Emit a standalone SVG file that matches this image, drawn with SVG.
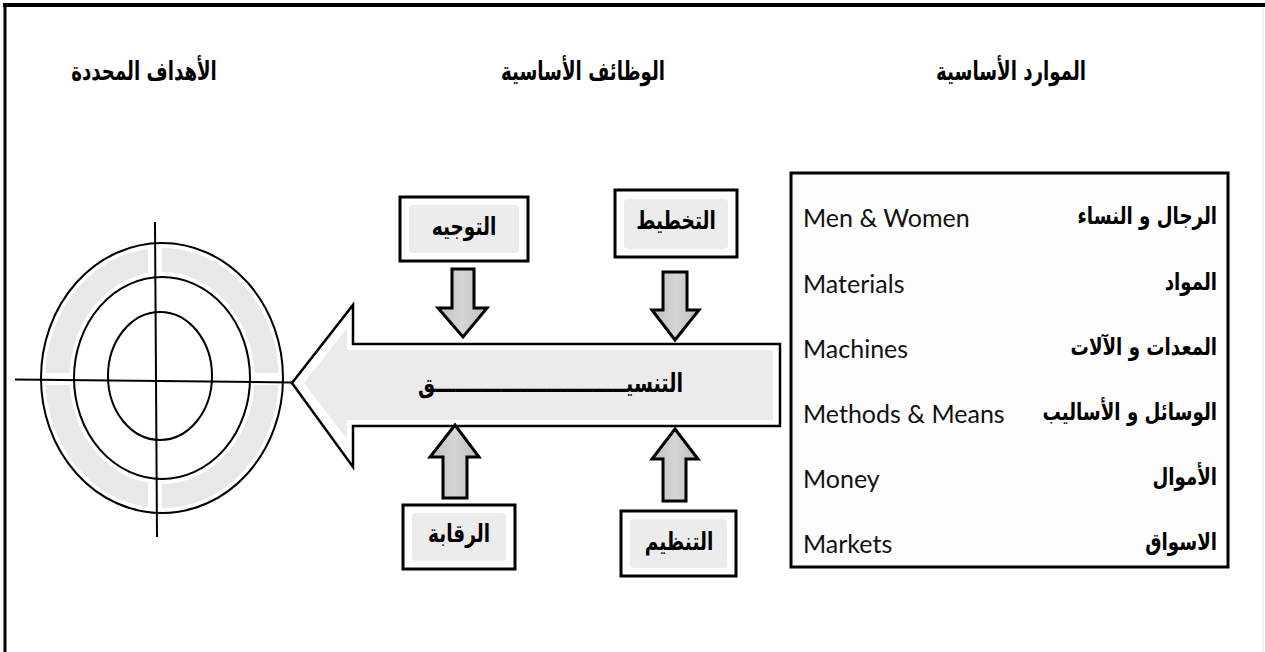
<svg xmlns="http://www.w3.org/2000/svg" width="1265" height="652" viewBox="0 0 1265 652">
<defs>
<linearGradient id="ag" x1="0" y1="0" x2="1" y2="0">
<stop offset="0" stop-color="#bdbdbd"/><stop offset="0.5" stop-color="#d6d6d6"/><stop offset="1" stop-color="#bdbdbd"/>
</linearGradient>
</defs>
<style>
.ar{font-family:"DejaVu Sans",sans-serif;font-weight:bold;fill:#000;direction:rtl}
.hd{font-size:26px;text-anchor:middle}
.bx{font-size:25px;text-anchor:middle}
.en{font-family:Lato,"Open Sans",sans-serif;font-size:25px;fill:#111}
.ra{font-size:24px;text-anchor:start}
.box{fill:#fff;stroke:#000;stroke-width:3}
.inner{fill:#ececec;stroke:none}
.ln{stroke:#000;stroke-width:2;fill:none}
.sa{fill:url(#ag);stroke:#000;stroke-width:3;stroke-linejoin:miter}
</style>
<rect x="0" y="0" width="1265" height="652" fill="#fff"/>
<g id="frame">
<line x1="3" y1="5" x2="1265" y2="5" stroke="#000" stroke-width="4"/>
<line x1="5" y1="3" x2="5" y2="652" stroke="#000" stroke-width="3"/>
<line x1="1263" y1="7" x2="1263" y2="652" stroke="#e4e4e4" stroke-width="1"/>
</g>
<g id="headers">
<text class="ar hd" transform="translate(144,80) scale(0.70,1)">الأهداف المحددة</text>
<text class="ar hd" transform="translate(583,80) scale(0.70,1)">الوظائف الأساسية</text>
<text class="ar hd" transform="translate(1011,80) scale(0.70,1)">الموارد الأساسية</text>
</g>
<g id="target">
<ellipse cx="162" cy="378" rx="104.5" ry="118" fill="none" stroke="#e8e8e8" stroke-width="24"/>
<rect x="148" y="230" width="14" height="80" fill="#fff"/>
<rect x="148" y="450" width="14" height="80" fill="#fff"/>
<rect x="30" y="373" width="60" height="12" fill="#fff"/>
<rect x="236" y="373" width="60" height="12" fill="#fff"/>
<ellipse cx="162" cy="378" rx="121" ry="135" class="ln"/>
<ellipse cx="162" cy="378" rx="88" ry="101" class="ln"/>
<ellipse cx="160" cy="376" rx="52" ry="64" class="ln"/>
<line x1="15" y1="379.5" x2="292" y2="382.5" class="ln"/>
<line x1="155" y1="222" x2="157" y2="537" class="ln"/>
</g>
<g id="coordination">
<polygon points="292,383 353,305 353,344 780,344 780,426 353,426 353,467" fill="#fff" stroke="#000" stroke-width="2.5" stroke-linejoin="miter"/>
<polygon points="304,383 347,328 347,350 773,350 773,420 347,420 347,439" fill="#ebebeb"/>
<text class="ar" transform="translate(683,392) scale(0.74,1)" font-size="26" text-anchor="start">التنسيـــــــــــــــــــــــــــــق</text>
</g>
<g id="connectors">
<polygon class="sa" points="452,269 474,269 474,308 487,308 463,337 438,308 452,308"/>
<polygon class="sa" points="663,272 687,272 687,310 699,310 675,340 652,310 663,310"/>
<polygon class="sa" points="443,498 467,498 467,457 479,457 455,425 430,457 443,457"/>
<polygon class="sa" points="663,501 686,501 686,459 698,459 675,429 652,459 663,459"/>
</g>
<g id="node-tawjih">
<rect class="box" x="400" y="197" width="128" height="64"/>
<rect class="inner" x="409" y="205" width="110" height="48" rx="4"/>
<text class="ar bx" transform="translate(464,235) scale(0.74,1)">التوجيه</text>
</g>
<g id="node-takhtit">
<rect class="box" x="615" y="190" width="122" height="67"/>
<rect class="inner" x="624" y="199" width="104" height="50" rx="4"/>
<text class="ar bx" transform="translate(676,229) scale(0.74,1)">التخطيط</text>
</g>
<g id="node-riqaba">
<rect class="box" x="403" y="505" width="112" height="64"/>
<rect class="inner" x="412" y="513" width="94" height="48" rx="4"/>
<text class="ar bx" transform="translate(459,542) scale(0.74,1)">الرقابة</text>
</g>
<g id="node-tanzim">
<rect class="box" x="621" y="511" width="115" height="65"/>
<rect class="inner" x="630" y="519" width="97" height="49" rx="4"/>
<text class="ar bx" transform="translate(679,550) scale(0.74,1)">التنظيم</text>
</g>
<g id="resources">
<rect x="791" y="173" width="437" height="394" fill="#fdfdfd" stroke="#000" stroke-width="3"/>
<text class="en" x="803" y="227">Men &amp; Women</text>
<text class="en" x="803" y="293">Materials</text>
<text class="en" x="803" y="358">Machines</text>
<text class="en" x="803" y="423">Methods &amp; Means</text>
<text class="en" x="803" y="488">Money</text>
<text class="en" x="803" y="553">Markets</text>
<text class="ar ra" transform="translate(1217,224) scale(0.76,1)">الرجال و النساء</text>
<text class="ar ra" transform="translate(1217,290) scale(0.76,1)">المواد</text>
<text class="ar ra" transform="translate(1217,355) scale(0.76,1)">المعدات و الآلات</text>
<text class="ar ra" transform="translate(1217,420) scale(0.76,1)">الوسائل و الأساليب</text>
<text class="ar ra" transform="translate(1217,485) scale(0.76,1)">الأموال</text>
<text class="ar ra" transform="translate(1217,550) scale(0.76,1)">الاسواق</text>
</g>
</svg>
